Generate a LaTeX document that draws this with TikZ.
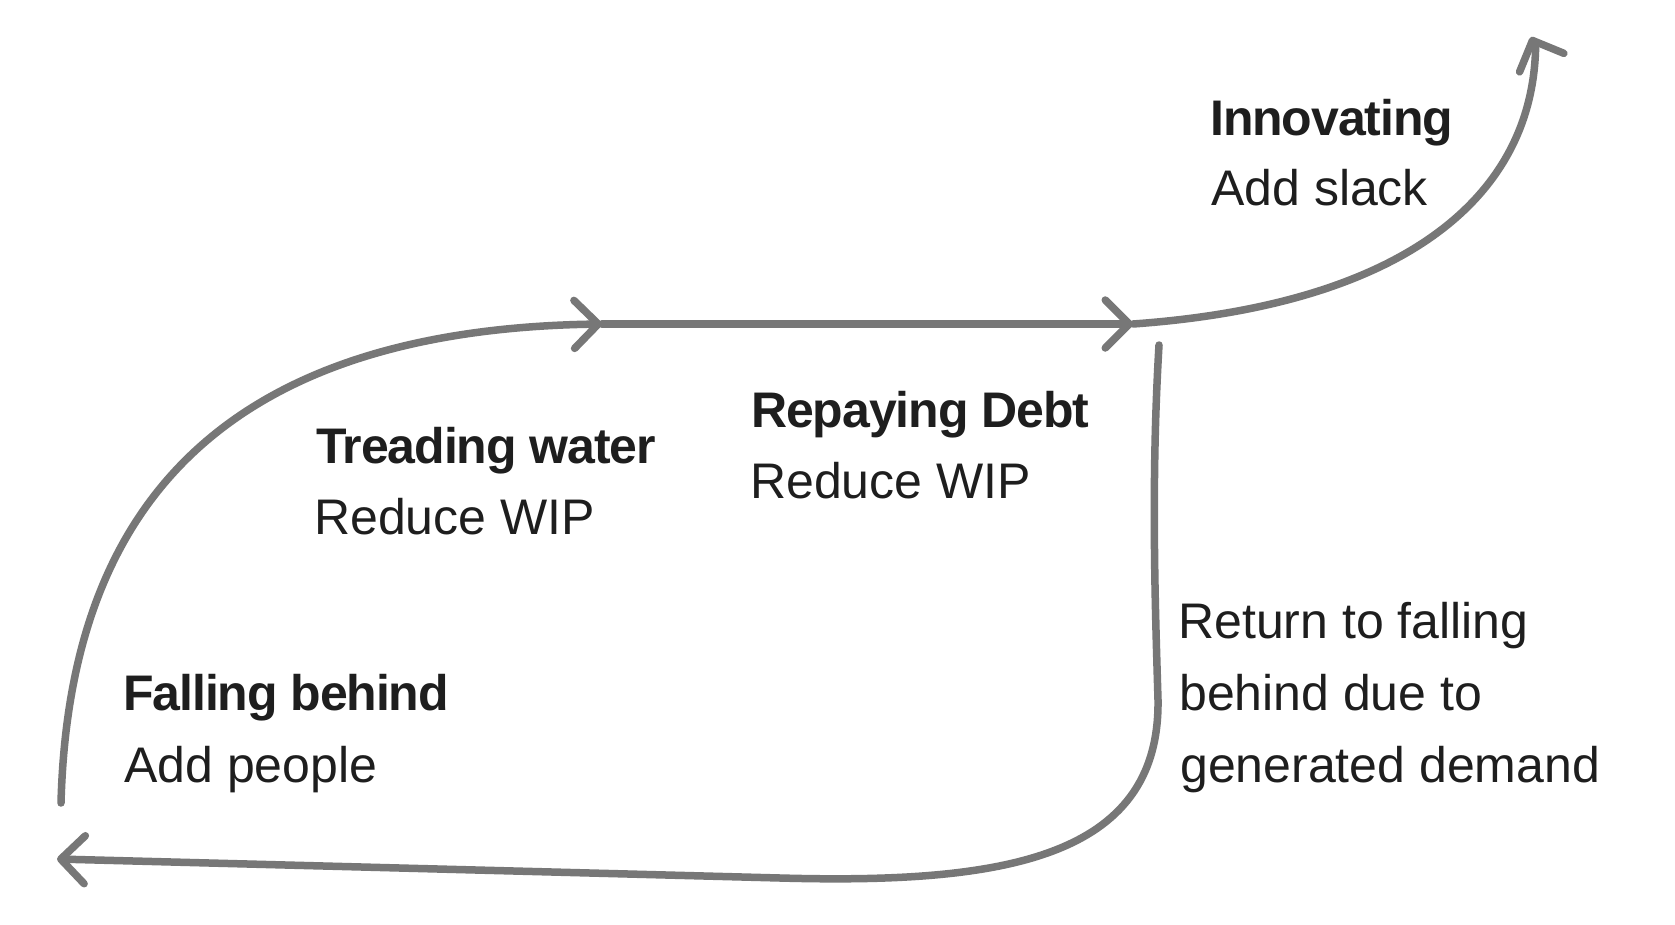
\documentclass[tikz,border=0pt]{standalone}
\usepackage{fontspec}
\setmainfont{Liberation Sans}
\newfontfamily\headfont{Liberation Sans}[LetterSpace=-2.2]
\usetikzlibrary{arrows.meta}
\definecolor{linegray}{HTML}{777777}
\definecolor{ink}{HTML}{1E1E1E}
\begin{document}
\begin{tikzpicture}[x=1pt,y=-1pt,
  flow/.style={draw=linegray,line width=7.5pt,line cap=round,line join=round},
  tipped/.style={flow,-{Straight Barb[length=24pt,width=48pt,round]}},
  lbl/.style={anchor=base west,inner sep=0pt,text=ink,font=\fontsize{50}{60}\selectfont},
  ttl/.style={lbl,font=\fontsize{50}{60}\selectfont\headfont\bfseries}]
\fill[white] (0,0) rectangle (1675,925);
\useasboundingbox (0,0) rectangle (1675,925);
% path coordinates
\coordinate (s1) at (61,803);
\coordinate (a1) at (602,324);
\coordinate (a2) at (1133,324);
\coordinate (a3n) at (1535.6,48);
\coordinate (a3) at (1531,37);
\coordinate (r0) at (1159,345);
\coordinate (r1) at (1158,700);
\coordinate (r2) at (780,878);
\coordinate (r3) at (57,859);
% connectors
\draw[tipped] (s1) .. controls (68,540) and (190,330) .. (a1);
\draw[tipped] (a1) -- (a2);
\draw[tipped] (a2) .. controls (1400,305) and (1532,200) .. (a3n) -- (a3);
\draw[tipped] (r0) .. controls (1151,480) and (1155,600) .. (r1)
  .. controls (1160,860) and (1000,884) .. (r2) -- (r3);
% labels
\node[ttl] (innoT) at (1210,136) {Innovating};
\node[lbl] (innoS) at (1211,206) {Add slack};
\node[ttl] (repT) at (751,427) {Repaying Debt};
\node[lbl] (repS) at (750,498) {Reduce WIP};
\node[ttl] (treT) at (316,463) {Treading water};
\node[lbl] (treS) at (314,534) {Reduce WIP};
\node[ttl] (falT) at (123,710) {Falling behind};
\node[lbl] (falS) at (124,782) {Add people};
\node[lbl] (ret1) at (1178,638) {Return to falling};
\node[lbl] (ret2) at (1179,710) {behind due to};
\node[lbl] (ret3) at (1180,782) {generated demand};
\end{tikzpicture}
\end{document}
